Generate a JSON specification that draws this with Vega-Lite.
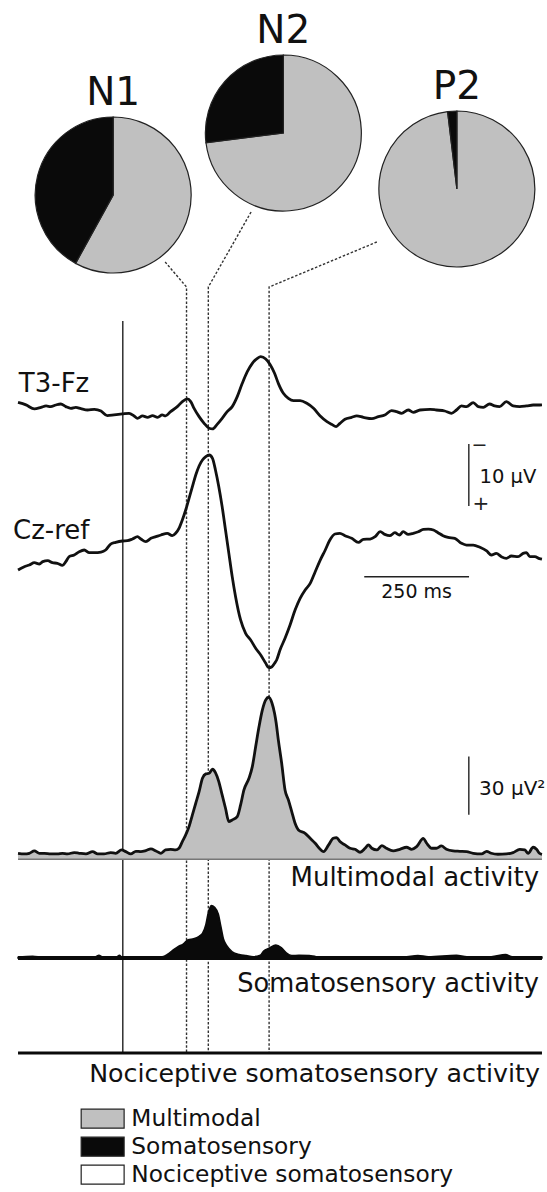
{
  "$schema": "https://vega.github.io/schema/vega-lite/v6.json",
  "width": 547,
  "height": 1192,
  "autosize": {"type": "none"},
  "padding": 0,
  "background": "white",
  "config": {"view": {"stroke": null}, "font": "DejaVu Sans"},
  "datasets": {
    "pies": [
      {"component": "N1", "activity": "Multimodal", "start": 0, "end": 0.58, "cx": -23, "cy": 195},
      {"component": "N1", "activity": "Somatosensory", "start": 0.58, "end": 1, "cx": -23, "cy": 195},
      {"component": "N2", "activity": "Multimodal", "start": 0, "end": 0.73, "cx": 383, "cy": 133},
      {"component": "N2", "activity": "Somatosensory", "start": 0.73, "end": 1, "cx": 383, "cy": 133},
      {"component": "P2", "activity": "Multimodal", "start": 0, "end": 0.981, "cx": 797, "cy": 189},
      {"component": "P2", "activity": "Somatosensory", "start": 0.981, "end": 1, "cx": 797, "cy": 189}
    ],
    "markers": [
      {"component": "N1", "t": 101, "pos": 262, "k": 0},
      {"component": "N1", "t": 152, "pos": 287, "k": 1},
      {"component": "N1", "t": 152, "pos": 1053, "k": 2},
      {"component": "N2", "t": 306, "pos": 212, "k": 0},
      {"component": "N2", "t": 204, "pos": 287, "k": 1},
      {"component": "N2", "t": 204, "pos": 1053, "k": 2},
      {"component": "P2", "t": 606, "pos": 242, "k": 0},
      {"component": "P2", "t": 349, "pos": 287, "k": 1},
      {"component": "P2", "t": 349, "pos": 1053, "k": 2}
    ],
    "t3": [
      {"t":-250,"v":-1.7},{"t":-231,"v":-1.3},{"t":-211,"v":-0.65},{"t":-195,"v":-0.9},{"t":-183,"v":-1.13},{"t":-172,"v":-1.02},{"t":-160,"v":-1.29},{"t":-148,"v":-1.45},{"t":-136,"v":-1.02},{"t":-124,"v":-0.75},{"t":-112,"v":-0.91},{"t":-100,"v":-0.7},{"t":-84,"v":-0.48},{"t":-68,"v":-0.59},{"t":-52,"v":-0.32},{"t":-37,"v":0.43},{"t":-21,"v":0.32},{"t":-1,"v":0.16},{"t":15,"v":0.05},{"t":27,"v":0.48},{"t":35,"v":0.86},{"t":47,"v":0.48},{"t":59,"v":0.7},{"t":71,"v":0.43},{"t":83,"v":0.7},{"t":94,"v":0.32},{"t":102,"v":0.48},{"t":114,"v":-0.22},{"t":130,"v":-1.02},{"t":142,"v":-1.83},{"t":154,"v":-2.26},{"t":162,"v":-1.83},{"t":170,"v":-0.75},{"t":182,"v":0.59},{"t":194,"v":1.67},{"t":206,"v":2.47},{"t":214,"v":2.58},{"t":225,"v":1.83},{"t":237,"v":0.86},{"t":249,"v":-0.22},{"t":261,"v":-1.02},{"t":273,"v":-2.63},{"t":285,"v":-4.78},{"t":297,"v":-6.67},{"t":309,"v":-8.01},{"t":321,"v":-8.82},{"t":329,"v":-9.09},{"t":341,"v":-8.71},{"t":352,"v":-7.74},{"t":362,"v":-6.4},{"t":371,"v":-4.78},{"t":383,"v":-3.17},{"t":395,"v":-2.37},{"t":407,"v":-1.99},{"t":423,"v":-1.99},{"t":439,"v":-1.56},{"t":455,"v":-0.75},{"t":471,"v":0.48},{"t":487,"v":1.4},{"t":498,"v":1.83},{"t":509,"v":2.2},{"t":518,"v":1.67},{"t":530,"v":1.02},{"t":546,"v":0.7},{"t":558,"v":0.48},{"t":574,"v":0.7},{"t":594,"v":0.91},{"t":610,"v":0.59},{"t":625,"v":0.32},{"t":641,"v":-0.38},{"t":653,"v":-0.22},{"t":665,"v":0.05},{"t":681,"v":-0.48},{"t":693,"v":-0.11},{"t":709,"v":-0.48},{"t":733,"v":-0.59},{"t":748,"v":-0.48},{"t":768,"v":-0.32},{"t":784,"v":0.05},{"t":796,"v":-0.48},{"t":808,"v":-1.13},{"t":820,"v":-1.02},{"t":836,"v":-1.67},{"t":848,"v":-1.02},{"t":860,"v":-0.91},{"t":875,"v":-1.45},{"t":887,"v":-1.13},{"t":899,"v":-1.02},{"t":915,"v":-1.83},{"t":931,"v":-1.13},{"t":947,"v":-1.02},{"t":963,"v":-1.13},{"t":979,"v":-1.29},{"t":995,"v":-1.29},{"t":1000,"v":-1.3}
    ],
    "cz": [
      {"t":-250,"v":4.84},{"t":-235,"v":4.3},{"t":-223,"v":4.03},{"t":-211,"v":3.66},{"t":-199,"v":3.87},{"t":-191,"v":3.49},{"t":-179,"v":3.33},{"t":-168,"v":3.66},{"t":-156,"v":3.76},{"t":-144,"v":4.09},{"t":-136,"v":3.49},{"t":-128,"v":2.69},{"t":-116,"v":2.42},{"t":-104,"v":1.88},{"t":-92,"v":1.61},{"t":-80,"v":2.04},{"t":-68,"v":2.04},{"t":-52,"v":1.94},{"t":-41,"v":1.61},{"t":-29,"v":0.65},{"t":-17,"v":0.38},{"t":-1,"v":0.16},{"t":11,"v":0.11},{"t":23,"v":-0.16},{"t":35,"v":-0.54},{"t":43,"v":-0.16},{"t":55,"v":0.27},{"t":67,"v":-0.27},{"t":79,"v":-0.54},{"t":91,"v":-0.81},{"t":106,"v":-1.08},{"t":118,"v":-0.7},{"t":126,"v":-1.08},{"t":134,"v":-1.88},{"t":142,"v":-3.23},{"t":150,"v":-4.84},{"t":158,"v":-6.72},{"t":166,"v":-8.6},{"t":174,"v":-10.48},{"t":182,"v":-11.94},{"t":190,"v":-12.9},{"t":198,"v":-13.44},{"t":206,"v":-13.71},{"t":214,"v":-13.17},{"t":221,"v":-11.29},{"t":229,"v":-8.6},{"t":237,"v":-5.38},{"t":245,"v":-1.61},{"t":253,"v":2.15},{"t":261,"v":5.91},{"t":269,"v":9.14},{"t":281,"v":12.9},{"t":293,"v":15.05},{"t":305,"v":16.13},{"t":317,"v":17.47},{"t":329,"v":18.55},{"t":341,"v":19.89},{"t":348,"v":20.59},{"t":356,"v":20.43},{"t":362,"v":19.89},{"t":367,"v":19.35},{"t":375,"v":17.74},{"t":387,"v":15.86},{"t":399,"v":13.71},{"t":411,"v":11.29},{"t":423,"v":9.41},{"t":435,"v":8.06},{"t":447,"v":6.99},{"t":459,"v":5.11},{"t":471,"v":3.23},{"t":483,"v":1.61},{"t":494,"v":0},{"t":506,"v":-0.97},{"t":518,"v":-1.08},{"t":530,"v":-0.7},{"t":546,"v":-0.27},{"t":562,"v":0.38},{"t":574,"v":-0.11},{"t":590,"v":-0.16},{"t":602,"v":-0.54},{"t":614,"v":-1.34},{"t":625,"v":-0.91},{"t":637,"v":-0.7},{"t":649,"v":-1.18},{"t":660,"v":-0.81},{"t":669,"v":-1.34},{"t":681,"v":-0.91},{"t":693,"v":-1.08},{"t":705,"v":-1.34},{"t":717,"v":-1.72},{"t":729,"v":-1.77},{"t":741,"v":-1.61},{"t":752,"v":-1.18},{"t":764,"v":-0.7},{"t":776,"v":-0.43},{"t":792,"v":-0.27},{"t":808,"v":0.54},{"t":820,"v":0.81},{"t":836,"v":0.81},{"t":852,"v":1.18},{"t":868,"v":1.77},{"t":879,"v":2.42},{"t":891,"v":2.15},{"t":903,"v":2.69},{"t":915,"v":2.96},{"t":927,"v":2.58},{"t":943,"v":2.69},{"t":955,"v":2.15},{"t":963,"v":2.04},{"t":971,"v":2.69},{"t":983,"v":2.69},{"t":994,"v":3.01},{"t":1000,"v":3.1}
    ],
    "mm": [
      {"t":-250,"v":3.09},{"t":-235,"v":2.75},{"t":-223,"v":3.09},{"t":-211,"v":4.3},{"t":-199,"v":3.09},{"t":-187,"v":3.09},{"t":-172,"v":2.75},{"t":-156,"v":2.75},{"t":-144,"v":3.09},{"t":-132,"v":2.75},{"t":-116,"v":3.44},{"t":-104,"v":3.09},{"t":-88,"v":2.75},{"t":-72,"v":3.95},{"t":-60,"v":2.75},{"t":-45,"v":2.75},{"t":-29,"v":3.44},{"t":-17,"v":3.09},{"t":-3,"v":4.81},{"t":7,"v":3.95},{"t":19,"v":2.75},{"t":31,"v":4.12},{"t":43,"v":3.95},{"t":55,"v":4.47},{"t":67,"v":5.33},{"t":79,"v":4.3},{"t":91,"v":3.09},{"t":102,"v":4.81},{"t":114,"v":5.15},{"t":126,"v":4.81},{"t":134,"v":5.67},{"t":142,"v":9.11},{"t":150,"v":12.54},{"t":158,"v":16.84},{"t":166,"v":22.85},{"t":174,"v":28.87},{"t":182,"v":34.88},{"t":190,"v":41.75},{"t":198,"v":43.99},{"t":206,"v":44.33},{"t":214,"v":46.39},{"t":221,"v":44.67},{"t":229,"v":40.03},{"t":237,"v":33.16},{"t":245,"v":26.29},{"t":253,"v":19.42},{"t":261,"v":20.27},{"t":273,"v":21.99},{"t":281,"v":28.01},{"t":289,"v":35.74},{"t":301,"v":41.75},{"t":309,"v":47.77},{"t":317,"v":58.08},{"t":325,"v":68.38},{"t":333,"v":76.98},{"t":341,"v":82.13},{"t":348,"v":83.51},{"t":356,"v":80.41},{"t":362,"v":75.26},{"t":366,"v":70.1},{"t":371,"v":61.51},{"t":379,"v":49.48},{"t":387,"v":35.74},{"t":395,"v":30.58},{"t":403,"v":24.57},{"t":411,"v":18.56},{"t":419,"v":15.12},{"t":435,"v":13.4},{"t":447,"v":10.82},{"t":459,"v":8.25},{"t":471,"v":5.15},{"t":479,"v":3.95},{"t":491,"v":7.39},{"t":502,"v":10.82},{"t":510,"v":11.17},{"t":518,"v":9.11},{"t":530,"v":7.39},{"t":542,"v":5.67},{"t":554,"v":5.15},{"t":566,"v":3.61},{"t":578,"v":5.67},{"t":586,"v":7.39},{"t":594,"v":5.67},{"t":606,"v":4.81},{"t":618,"v":7.04},{"t":629,"v":5.67},{"t":645,"v":4.3},{"t":661,"v":5.15},{"t":677,"v":6.19},{"t":689,"v":5.15},{"t":701,"v":6.53},{"t":717,"v":10.82},{"t":725,"v":8.25},{"t":737,"v":5.67},{"t":748,"v":5.67},{"t":760,"v":6.87},{"t":772,"v":5.15},{"t":788,"v":4.3},{"t":804,"v":4.12},{"t":820,"v":3.95},{"t":836,"v":3.09},{"t":856,"v":2.75},{"t":868,"v":4.12},{"t":879,"v":3.09},{"t":895,"v":2.58},{"t":915,"v":2.75},{"t":931,"v":3.44},{"t":947,"v":5.15},{"t":959,"v":4.81},{"t":967,"v":3.09},{"t":979,"v":6.19},{"t":987,"v":5.15},{"t":994,"v":3.09},{"t":1000,"v":2.5}
    ],
    "ss": [
      {"t":-250,"v":0.36},{"t":-215,"v":0.9},{"t":-190,"v":0.36},{"t":-123,"v":0.36},{"t":-65,"v":0.72},{"t":-57,"v":1.45},{"t":-48,"v":0.54},{"t":-15,"v":0.54},{"t":-8,"v":1.45},{"t":-2,"v":0.36},{"t":44,"v":0.36},{"t":94,"v":0.72},{"t":106,"v":1.81},{"t":119,"v":3.98},{"t":131,"v":5.79},{"t":144,"v":7.23},{"t":156,"v":9.4},{"t":169,"v":9.95},{"t":182,"v":11.21},{"t":190,"v":12.66},{"t":198,"v":17.18},{"t":204,"v":23.51},{"t":211,"v":27.13},{"t":219,"v":26.22},{"t":228,"v":22.6},{"t":234,"v":16.27},{"t":240,"v":9.95},{"t":248,"v":6.33},{"t":261,"v":3.25},{"t":278,"v":1.81},{"t":294,"v":1.27},{"t":311,"v":0.72},{"t":328,"v":1.45},{"t":336,"v":3.62},{"t":349,"v":5.06},{"t":365,"v":6.69},{"t":378,"v":5.42},{"t":390,"v":2.71},{"t":403,"v":1.27},{"t":420,"v":1.45},{"t":445,"v":1.27},{"t":461,"v":0.72},{"t":503,"v":0.36},{"t":545,"v":0.72},{"t":587,"v":0.54},{"t":628,"v":0.72},{"t":670,"v":0.54},{"t":704,"v":1.27},{"t":729,"v":0.72},{"t":796,"v":1.45},{"t":821,"v":0.72},{"t":879,"v":0.72},{"t":913,"v":1.81},{"t":929,"v":0.72},{"t":963,"v":0.54},{"t":992,"v":0.72},{"t":1000,"v":0.5}
    ]
  },
  "layer": [
    {
      "layer": [
        {
          "data": {"name": "pies"},
          "mark": {"type": "arc", "radius": 78, "stroke": "#222", "strokeWidth": 1.2},
          "encoding": {
            "x": {"field": "cx", "type": "quantitative", "scale": {"domain": [-293, 1012], "nice": false, "zero": false}, "axis": null},
            "y": {"field": "cy", "type": "quantitative", "scale": {"domain": [0, 1192], "reverse": true, "nice": false, "zero": false}, "axis": null},
            "theta": {"field": "start", "type": "quantitative", "stack": null, "scale": {"domain": [0, 1], "range": [0, 6.283185]}},
            "theta2": {"field": "end"},
            "color": {
              "field": "activity", "type": "nominal",
              "scale": {"domain": ["Multimodal", "Somatosensory", "Nociceptive somatosensory"], "range": ["#c0c0c0", "#0a0a0a", "#ffffff"]},
              "legend": {
                "title": null, "orient": "none", "legendX": 79, "legendY": 1107, "padding": 0,
                "symbolType": "M-2.26,-1L2.26,-1L2.26,1L-2.26,1Z", "symbolSize": 361,
                "symbolOffset": 12, "labelOffset": 17,
                "symbolStrokeColor": "#222", "symbolStrokeWidth": 1.2, "symbolOpacity": 1,
                "labelFont": "DejaVu Sans", "labelFontSize": 23.3, "labelColor": "#111", "labelLimit": 400,
                "rowPadding": 3
              }
            }
          }
        },
        {
          "data": {"name": "pies"},
          "transform": [{"filter": "datum.activity === 'Multimodal'"}],
          "mark": {"type": "text", "font": "DejaVu Sans", "fontSize": 39, "dy": -90, "baseline": "alphabetic", "align": "center", "color": "#111"},
          "encoding": {
            "x": {"field": "cx", "type": "quantitative", "scale": {"domain": [-293, 1012], "nice": false, "zero": false}, "axis": null},
            "y": {"field": "cy", "type": "quantitative", "scale": {"domain": [0, 1192], "reverse": true, "nice": false, "zero": false}, "axis": null},
            "text": {"field": "component"}
          }
        },
        {
          "data": {"name": "markers"},
          "mark": {"type": "line", "strokeDash": [2.5, 1.8], "strokeWidth": 1.4, "color": "#333"},
          "encoding": {
            "x": {"field": "t", "type": "quantitative", "scale": {"domain": [-293, 1012], "nice": false, "zero": false}, "axis": null},
            "y": {"field": "pos", "type": "quantitative", "scale": {"domain": [0, 1192], "reverse": true, "nice": false, "zero": false}, "axis": null},
            "detail": {"field": "component"},
            "order": {"field": "k"}
          }
        },
        {
          "data": {"values": [{}]},
          "mark": {"type": "rule", "color": "#111", "strokeWidth": 1.3},
          "encoding": {"x": {"datum": 0}, "y": {"datum": 321}, "y2": {"datum": 1053}}
        }
      ]
    },
    {
      "layer": [
        {
          "data": {"name": "t3"},
          "mark": {"type": "line", "color": "#111", "strokeWidth": 2.8, "interpolate": "monotone"},
          "encoding": {
            "x": {"field": "t", "type": "quantitative", "scale": {"domain": [-293, 1012], "nice": false, "zero": false}, "axis": null},
            "y": {"field": "v", "type": "quantitative", "scale": {"domain": [-66.61, 125.65], "reverse": true, "nice": false, "zero": false}, "axis": null}
          }
        },
        {
          "data": {"values": [{"label": "T3-Fz"}]},
          "mark": {"type": "text", "font": "DejaVu Sans", "fontSize": 26, "align": "left", "baseline": "alphabetic", "color": "#111"},
          "encoding": {"x": {"datum": -248}, "y": {"datum": -3.4}, "text": {"field": "label"}}
        }
      ]
    },
    {
      "layer": [
        {
          "data": {"name": "cz"},
          "mark": {"type": "line", "color": "#111", "strokeWidth": 2.8, "interpolate": "monotone"},
          "encoding": {
            "x": {"field": "t", "type": "quantitative", "scale": {"domain": [-293, 1012], "nice": false, "zero": false}, "axis": null},
            "y": {"field": "v", "type": "quantitative", "scale": {"domain": [-87.1, 105.16], "reverse": true, "nice": false, "zero": false}, "axis": null}
          }
        },
        {
          "data": {"values": [{"label": "Cz-ref"}]},
          "mark": {"type": "text", "font": "DejaVu Sans", "fontSize": 26, "align": "left", "baseline": "alphabetic", "color": "#111"},
          "encoding": {"x": {"datum": -262}, "y": {"datum": -0.16}, "text": {"field": "label"}}
        },
        {
          "data": {"values": [{}]},
          "mark": {"type": "rule", "color": "#222", "strokeWidth": 1.4},
          "encoding": {"x": {"datum": 825.5}, "y": {"datum": -15.5}, "y2": {"datum": -5.5}}
        },
        {
          "data": {"values": [{"label": "−"}]},
          "mark": {"type": "text", "font": "DejaVu Sans", "fontSize": 19, "align": "left", "baseline": "middle", "color": "#222"},
          "encoding": {"x": {"datum": 832}, "y": {"datum": -15.3}, "text": {"field": "label"}}
        },
        {
          "data": {"values": [{"label": "+"}]},
          "mark": {"type": "text", "font": "DejaVu Sans", "fontSize": 20, "align": "center", "baseline": "middle", "color": "#222"},
          "encoding": {"x": {"datum": 854.5}, "y": {"datum": -5.8}, "text": {"field": "label"}}
        },
        {
          "data": {"values": [{"label": "10 μV"}]},
          "mark": {"type": "text", "font": "DejaVu Sans", "fontSize": 19.5, "align": "left", "baseline": "alphabetic", "color": "#111"},
          "encoding": {"x": {"datum": 851}, "y": {"datum": -9.15}, "text": {"field": "label"}}
        },
        {
          "data": {"values": [{}]},
          "mark": {"type": "rule", "color": "#222", "strokeWidth": 1.4},
          "encoding": {"x": {"datum": 576}, "x2": {"datum": 826}, "y": {"datum": 5.92}}
        },
        {
          "data": {"values": [{"label": "250 ms"}]},
          "mark": {"type": "text", "font": "DejaVu Sans", "fontSize": 19, "align": "center", "baseline": "alphabetic", "color": "#111"},
          "encoding": {"x": {"datum": 701}, "y": {"datum": 9.4}, "text": {"field": "label"}}
        }
      ]
    },
    {
      "layer": [
        {
          "data": {"name": "mm"},
          "mark": {"type": "area", "color": "#c0c0c0", "interpolate": "monotone"},
          "encoding": {
            "x": {"field": "t", "type": "quantitative", "scale": {"domain": [-293, 1012], "nice": false, "zero": false}, "axis": null},
            "y": {"field": "v", "type": "quantitative", "scale": {"domain": [-171.5, 442.9], "nice": false, "zero": false}, "axis": null},
            "y2": {"datum": 0}
          }
        },
        {
          "data": {"values": [{}]},
          "mark": {"type": "rule", "color": "#777", "strokeWidth": 1.6},
          "encoding": {"x": {"datum": -250}, "x2": {"datum": 1000}, "y": {"datum": 0}}
        },
        {
          "data": {"name": "mm"},
          "mark": {"type": "line", "color": "#111", "strokeWidth": 2.8, "interpolate": "monotone"},
          "encoding": {
            "x": {"field": "t", "type": "quantitative"},
            "y": {"field": "v", "type": "quantitative"}
          }
        },
        {
          "data": {"values": [{}]},
          "mark": {"type": "rule", "color": "#222", "strokeWidth": 1.4},
          "encoding": {"x": {"datum": 825.5}, "y": {"datum": 23}, "y2": {"datum": 53}}
        },
        {
          "data": {"values": [{"label": "30 μV²"}]},
          "mark": {"type": "text", "font": "DejaVu Sans", "fontSize": 20, "align": "left", "baseline": "alphabetic", "color": "#111"},
          "encoding": {"x": {"datum": 850}, "y": {"datum": 33.1}, "text": {"field": "label"}}
        },
        {
          "data": {"values": [{"label": "Multimodal activity"}]},
          "mark": {"type": "text", "font": "DejaVu Sans", "fontSize": 26, "align": "right", "baseline": "alphabetic", "color": "#111"},
          "encoding": {"x": {"datum": 993}, "y": {"datum": -13.8}, "text": {"field": "label"}}
        }
      ]
    },
    {
      "layer": [
        {
          "data": {"name": "ss"},
          "mark": {"type": "area", "color": "#0a0a0a", "interpolate": "monotone", "stroke": "#0a0a0a", "strokeWidth": 1.5},
          "encoding": {
            "x": {"field": "t", "type": "quantitative", "scale": {"domain": [-293, 1012], "nice": false, "zero": false}, "axis": null},
            "y": {"field": "v", "type": "quantitative", "scale": {"domain": [-120.6, 493.8], "nice": false, "zero": false}, "axis": null},
            "y2": {"datum": 0}
          }
        },
        {
          "data": {"values": [{}]},
          "mark": {"type": "rule", "color": "#0a0a0a", "strokeWidth": 4},
          "encoding": {"x": {"datum": -250}, "x2": {"datum": 1000}, "y": {"datum": 0}}
        },
        {
          "data": {"values": [{"label": "Somatosensory activity"}]},
          "mark": {"type": "text", "font": "DejaVu Sans", "fontSize": 25.7, "align": "right", "baseline": "alphabetic", "color": "#111"},
          "encoding": {"x": {"datum": 993}, "y": {"datum": -17.3}, "text": {"field": "label"}}
        }
      ]
    },
    {
      "layer": [
        {
          "data": {"values": [{"t": -250, "v": 0}, {"t": 1000, "v": 0}]},
          "mark": {"type": "line", "color": "#0a0a0a", "strokeWidth": 3},
          "encoding": {
            "x": {"field": "t", "type": "quantitative", "scale": {"domain": [-293, 1012], "nice": false, "zero": false}, "axis": null},
            "y": {"field": "v", "type": "quantitative", "scale": {"domain": [-71.65, 542.78], "nice": false, "zero": false}, "axis": null}
          }
        },
        {
          "data": {"values": [{"label": "Nociceptive somatosensory activity"}]},
          "mark": {"type": "text", "font": "DejaVu Sans", "fontSize": 25.3, "align": "right", "baseline": "alphabetic", "color": "#111"},
          "encoding": {"x": {"datum": 995}, "y": {"datum": -14.95}, "text": {"field": "label"}}
        }
      ]
    }
  ],
  "resolve": {"scale": {"y": "independent"}}
}
